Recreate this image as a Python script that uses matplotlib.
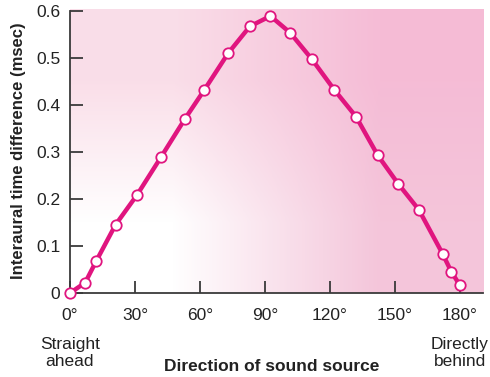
import numpy as np
import matplotlib
matplotlib.use("Agg")
import matplotlib.pyplot as plt

plt.rcParams['font.family'] = ['Liberation Sans', 'DejaVu Sans']

# direction of sound source (degrees) and interaural time difference (msec)
angle = [0, 7, 12, 21, 31, 42, 53, 62, 73, 83, 92.5, 101.5, 111.5, 122, 132, 142, 151.5, 161, 172, 176, 180]
itd = [0, 0.022, 0.067, 0.145, 0.209, 0.289, 0.370, 0.432, 0.510, 0.567, 0.589,
       0.554, 0.498, 0.432, 0.375, 0.293, 0.232, 0.177, 0.083, 0.045, 0.016]

xticks = [0, 30, 60, 90, 120, 150, 180]
xticklabels = ['0°', '30°', '60°', '90°', '120°', '150°', '180°']
yticks = [0, 0.1, 0.2, 0.3, 0.4, 0.5, 0.6]
yticklabels = ['0', '0.1', '0.2', '0.3', '0.4', '0.5', '0.6']

line_col = '#e0157f'
axis_col = '#3a3a3a'
txt_col = '#222222'

fig = plt.figure(figsize=(4.9, 3.77), dpi=100)
ax = fig.add_axes([70/490, 84/377, 413/490, 284/377])

# pink gradient background: white at lower left, deeper pink to the right
grad = np.array([[[1.0, 1.0, 1.0], [0.957, 0.773, 0.855]],
                 [[0.980, 0.870, 0.912], [0.961, 0.737, 0.839]]])
ax.imshow(grad, extent=[0, 1, 0, 1], transform=ax.transAxes, origin='lower',
          interpolation='bilinear', aspect='auto', zorder=0)

ax.plot(angle, itd, color=line_col, lw=3.2, marker='o', ms=7.5,
        mfc='white', mec=line_col, mew=1.3, zorder=3, clip_on=False)

ax.set_xlim(0, 190.6)
ax.set_ylim(0, 0.604)
ax.set_xticks(xticks)
ax.set_xticklabels(xticklabels)
ax.set_yticks(yticks)
ax.set_yticklabels(yticklabels)

for s in ['top', 'right']:
    ax.spines[s].set_visible(False)
for s in ['left', 'bottom']:
    ax.spines[s].set_color(axis_col)
    ax.spines[s].set_linewidth(1.3)
ax.spines['left'].set_bounds(0, 0.6)

ax.tick_params(direction='in', length=9, width=1.3, color=axis_col,
               labelsize=12.5, labelcolor=txt_col)
ax.tick_params(axis='y', pad=7)
ax.tick_params(axis='x', pad=11)

ax.set_ylabel('Interaural time difference (msec)', fontsize=12, fontweight='bold',
              color=txt_col, labelpad=7)
fig.text(272/490, 1 - 371/377, 'Direction of sound source', ha='center', va='baseline',
         fontsize=12.5, fontweight='bold', color=txt_col)
fig.text(70/490, 1 - 366/377, 'Straight\nahead', ha='center', va='baseline',
         fontsize=12.5, color=txt_col, linespacing=1.2)
fig.text(460/490, 1 - 366/377, 'Directly\nbehind', ha='center', va='baseline',
         fontsize=12.5, color=txt_col, linespacing=1.2)

fig.savefig('out.png', dpi=100)
